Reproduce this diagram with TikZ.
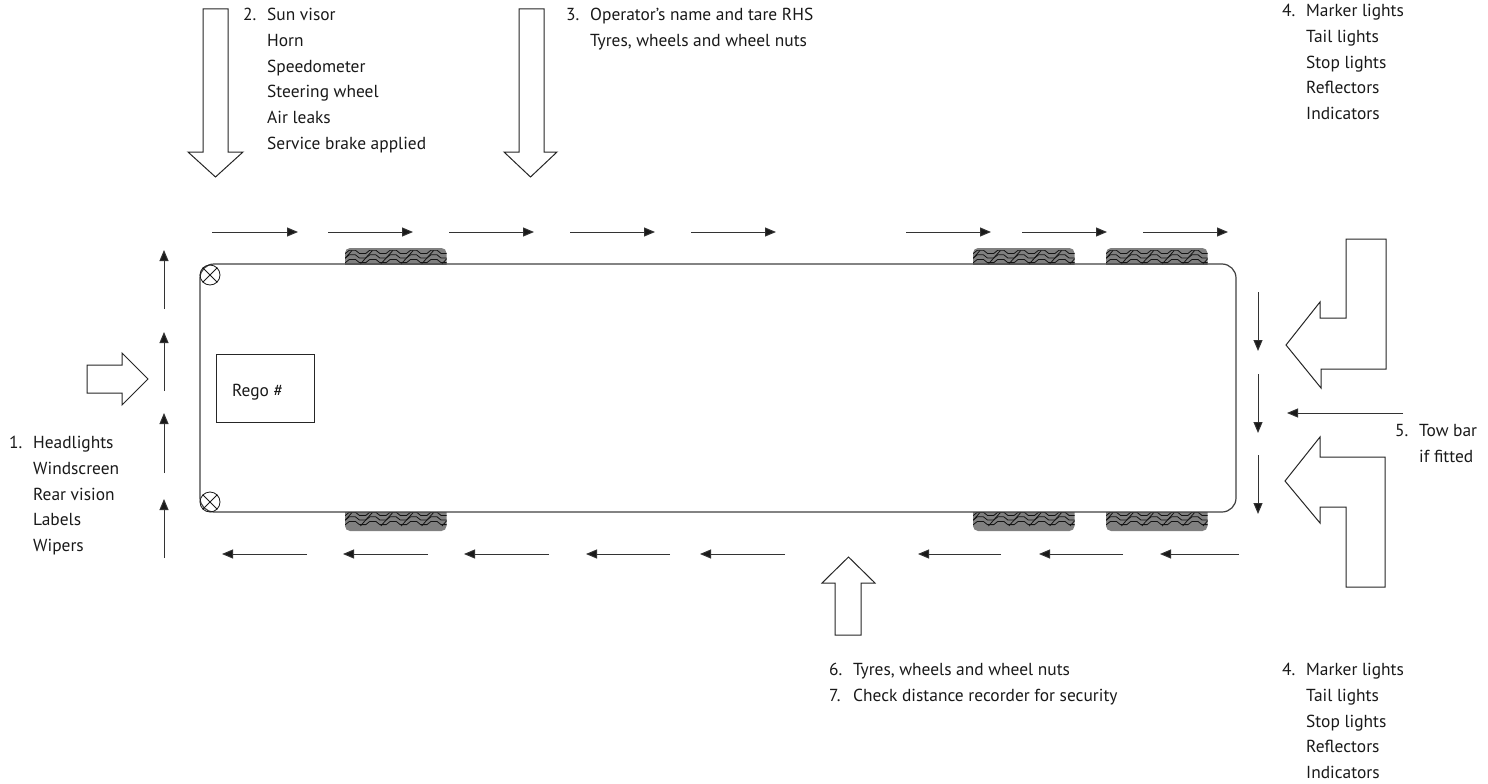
\documentclass[tikz,border=0pt]{standalone}
\usepackage{fontspec}
\setmainfont{PT Sans}
\usetikzlibrary{arrows.meta}
\tikzset{
  x=1pt,y=-1pt,
  flow/.style={draw=black!80,line width=1pt,-{Triangle[length=11pt,width=9pt,fill=black!90]}},
  block/.style={draw=black!85,line width=1pt,fill=white,line join=miter},
  body/.style={draw=black!75,line width=1.2pt,rounded corners=14pt},
  lamp/.style={draw=black!90,line width=0.8pt},
  tyre/.style={fill=black!50,rounded corners=5pt},
  tread/.style={draw=black!92,line width=0.8pt,line join=miter},
  lab/.style={anchor=north west,inner sep=0pt,align=left,font=\fontsize{17.4}{25.8}\selectfont,text=black!90},
}
\newcommand{\nm}[1]{\makebox[24pt][l]{#1}}
\newcommand{\nn}{\hspace*{24pt}}
\newcommand{\tyrepath}[3]{% x, top of the tread, height of the clip
  \begin{scope}
    \clip (#1,#2) rectangle ++(101.5,#3);
    \foreach \r in {0,1,2}{
      \draw[tread] ({#1-6},{#2+\r*4.6+3.4})
        \foreach \k in {0,...,5}{ -- ++(6.4,0) -- ++(4,-3.2) -- ++(6,0) -- ++(4,3.2) };
    }
    \foreach \k in {0,...,5}{
      \draw[tread] ({#1-5+\k*20.4},{#2+14}) -- ++(12,-13.5);
    }
  \end{scope}
}
\begin{document}
\begin{tikzpicture}
\useasboundingbox (0,0) rectangle (1488,784);
% tyres
\foreach \n/\x in {ta/345,tb/973,tc/1106}{
  \begin{scope}
    \clip (\x,248) rectangle ++(101.5,16);
    \fill[tyre] (\x,248) rectangle ++(101.5,26);
  \end{scope}
  \tyrepath{\x}{250}{14}
}
\foreach \n/\x in {ba/345,bb/973,bc/1106}{
  \begin{scope}
    \clip (\x,512) rectangle ++(101.5,19);
    \fill[tyre] (\x,502) rectangle ++(101.5,29);
  \end{scope}
  \tyrepath{\x}{512}{14}
}
% body
\draw[body] (200,264) rectangle (1236,512);
\node[draw=black!85,line width=1pt,minimum width=98pt,minimum height=68pt,inner sep=0pt,anchor=north west] (rego) at (216,354) {};
\node[anchor=west,inner sep=0pt,font=\fontsize{17.4}{20}\selectfont,text=black!90] (regot) at (232,392.5) {Rego \#};
% lamps
\foreach \n/\y in {lampa/275,lampb/502}{
  \node[lamp,draw,circle,minimum size=20pt,inner sep=0pt] (\n) at (210,\y) {};
  \draw[lamp] (\n.north west) -- (\n.south east) (\n.north east) -- (\n.south west);
}
% flow arrows
\foreach \n/\a/\b in {1/212/298,2/328/413,3/449/534,4/570/655,5/691/776,6/906/991,7/1022/1107,8/1143/1228}{
  \coordinate (ts\n) at (\a,232); \coordinate (te\n) at (\b,232);
  \draw[flow] (ts\n) -- (te\n);
}
\foreach \n/\a/\b in {1/307/222,2/428/343,3/549/464,4/670/586,5/785/700,6/1001/918,7/1123/1039,8/1239/1160}{
  \coordinate (bs\n) at (\a,554); \coordinate (be\n) at (\b,554);
  \draw[flow] (bs\n) -- (be\n);
}
\foreach \n/\a/\b in {1/558/499,2/473/413,3/391/332,4/309/250}{
  \coordinate (ls\n) at (164,\a); \coordinate (le\n) at (164,\b);
  \draw[flow] (ls\n) -- (le\n);
}
\foreach \n/\a/\b in {1/292/351,2/374/433,3/455/514}{
  \coordinate (rs\n) at (1258,\a); \coordinate (re\n) at (1258,\b);
  \draw[flow] (rs\n) -- (re\n);
}
\coordinate (tows) at (1403,413); \coordinate (towe) at (1287,413);
\draw[flow] (tows) -- (towe);
% block arrows
\draw[block] (203,9) -- (228,9) -- (228,152) -- (243,152) -- (215.5,177) -- (188,152) -- (203,152) -- cycle;
\draw[block] (519,9) -- (544,9) -- (544,152) -- (557,152) -- (530.5,177) -- (504,152) -- (519,152) -- cycle;
\draw[block] (87,365) -- (122,365) -- (122,353) -- (148,379) -- (122,405) -- (122,393) -- (87,393) -- cycle;
\draw[block] (835,635) -- (835,583) -- (822,583) -- (848.5,557) -- (875,583) -- (861,583) -- (861,635) -- cycle;
\draw[block] (1346,239) -- (1386,239) -- (1386,369) -- (1321,369) -- (1321,388) -- (1286,345) -- (1320,302) -- (1320,318) -- (1346,318) -- cycle;
\draw[block] (1320,437) -- (1285,481) -- (1320,523) -- (1320,507) -- (1346,507) -- (1346,587) -- (1385,587) -- (1385,457) -- (1320,457) -- cycle;
% labels
\node[lab] (l1) at (9,436) {\nm{1.}Headlights\\\nn Windscreen\\\nn Rear vision\\\nn Labels\\\nn Wipers};
\node[lab] (l2) at (243,8) {\nm{2.}Sun visor\\\nn Horn\\\nn Speedometer\\\nn Steering wheel\\\nn Air leaks\\\nn Service brake applied};
\node[lab] (l3) at (566,8) {\nm{3.}Operator’s name and tare RHS\\\nn Tyres, wheels and wheel nuts};
\node[lab] (l4a) at (1282,4) {\nm{4.}Marker lights\\\nn Tail lights\\\nn Stop lights\\\nn Reflectors\\\nn Indicators};
\node[lab] (l5) at (1395,424) {\nm{5.}Tow bar\\\nn if fitted};
\node[lab] (l6) at (829,663) {\nm{6.}Tyres, wheels and wheel nuts\\\nm{7.}Check distance recorder for security};
\node[lab] (l4b) at (1282,663) {\nm{4.}Marker lights\\\nn Tail lights\\\nn Stop lights\\\nn Reflectors\\\nn Indicators};
\end{tikzpicture}
\end{document}
